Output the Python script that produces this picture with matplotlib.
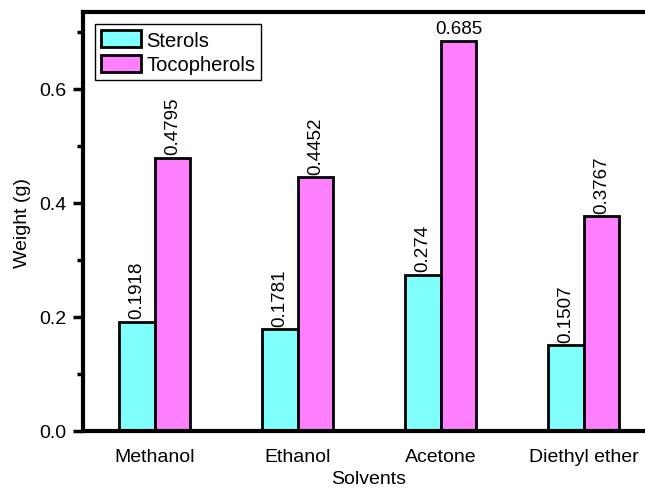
import numpy as np
import matplotlib
matplotlib.use('Agg')
from matplotlib import pyplot as plt
from matplotlib.ticker import MultipleLocator

solvents = ['Methanol', 'Ethanol', 'Acetone', 'Diethyl ether']
sterols = [0.1918, 0.1781, 0.274, 0.1507]
tocopherols = [0.4795, 0.4452, 0.685, 0.3767]
sterol_labels = ['0.1918', '0.1781', '0.274', '0.1507']
toco_labels = ['0.4795', '0.4452', '0.685', '0.3767']

plt.rcParams['font.family'] = ['Liberation Sans', 'DejaVu Sans']
plt.rcParams['font.size'] = 14

fig = plt.figure(figsize=(6.45, 4.89), dpi=100)
# axes runs past the right edge of the figure, like the original
ax = fig.add_axes([83/645, 57/489, 572/645, 419/489])

pos = np.arange(len(solvents))
width = 0.25
b1 = ax.bar(pos - width/2, sterols, width, color='#80FFFF', edgecolor='black', linewidth=2, label='Sterols')
b2 = ax.bar(pos + width/2, tocopherols, width, color='#FF80FF', edgecolor='black', linewidth=2, label='Tocopherols')

for rect, lab in zip(b1, sterol_labels):
    ax.text(rect.get_x() + rect.get_width()/2, rect.get_height() + 0.006, lab,
            rotation=90, ha='center', va='bottom', fontsize=13.5)
for rect, lab in zip(b2, toco_labels):
    rot = 0 if lab == '0.685' else 90
    ax.text(rect.get_x() + rect.get_width()/2, rect.get_height() + 0.006, lab,
            rotation=rot, ha='center', va='bottom', fontsize=13.5)

ax.set_xlim(-0.5, 3.5)
ax.set_ylim(0, 0.735)
ax.set_xticks(pos)
ax.set_xticklabels(solvents)
ax.tick_params(axis='x', length=0, pad=12)
ax.yaxis.set_major_locator(MultipleLocator(0.2))
ax.yaxis.set_minor_locator(MultipleLocator(0.1))
ax.yaxis.set_major_formatter(matplotlib.ticker.FormatStrFormatter('%.1f'))
ax.tick_params(axis='y', which='major', direction='out', length=7, width=2.5, pad=5)
ax.tick_params(axis='y', which='minor', direction='out', length=4, width=2.5)
for s in ax.spines.values():
    s.set_linewidth(3)

ax.set_ylabel('Weight (g)', labelpad=6)
ax.set_xlabel('Solvents', labelpad=4)

leg = ax.legend(loc='upper left', bbox_to_anchor=(0.0, 1.0), fancybox=False, edgecolor='black',
                framealpha=1, handlelength=2.0, handleheight=0.95, borderaxespad=0.6,
                labelspacing=0.25, handletextpad=0.25, borderpad=0.3, fontsize=14.5)
leg.get_frame().set_linewidth(1)
for h in leg.legend_handles:
    h.set_linewidth(2)

plt.savefig('out.png', dpi=100)
